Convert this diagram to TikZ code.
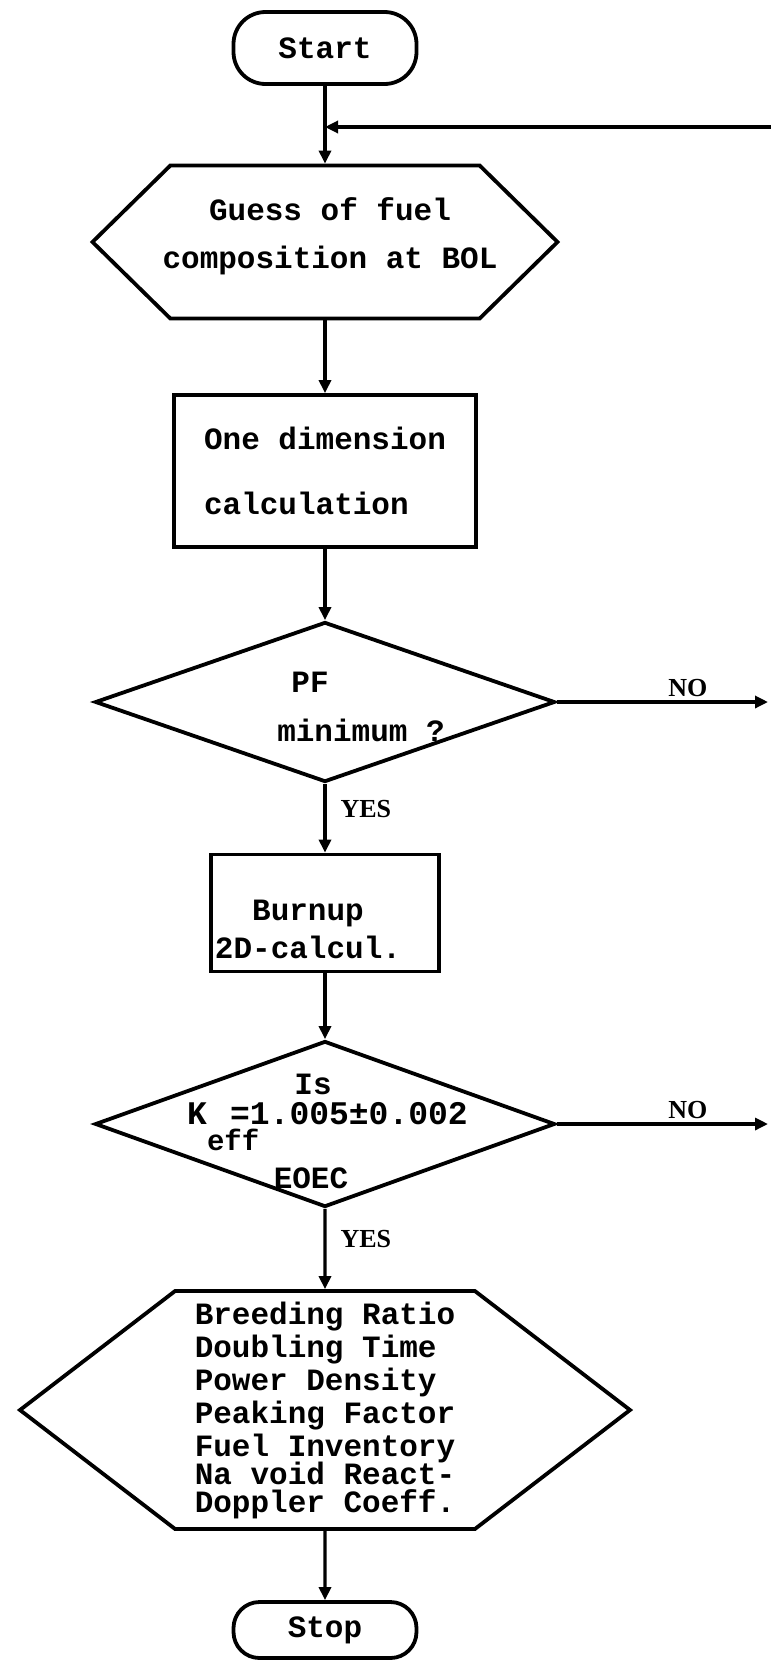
\documentclass[tikz,border=0pt]{standalone}
\usepackage{fontspec}
\usetikzlibrary{arrows.meta,positioning,shapes.geometric,shapes.symbols}
\newfontfamily\prtfont{Liberation Mono}
\newfontfamily\lblfont{Liberation Serif}
\tikzset{
  shp/.style   ={draw=black, line width=3.8pt, fill=white, inner sep=0pt,
                 font=\prtfont\bfseries\fontsize{31}{36}\selectfont},
  term/.style  ={shp, rectangle, rounded corners=32pt,
                 minimum width=183pt, minimum height=72pt},
  proc/.style  ={shp, rectangle, align=left},
  hexa/.style  ={shp, signal, signal to=east and west, signal from=nowhere},
  deci/.style  ={shp, diamond},
  txt/.style   ={font=\prtfont\bfseries\fontsize{31}{36}\selectfont, inner sep=0pt},
  lbl/.style   ={font=\lblfont\bfseries\fontsize{26}{30}\selectfont, inner sep=0pt},
  arr/.style   ={-{Triangle[length=13pt,width=12pt]}, line width=3.2pt},
}
\begin{document}
\begin{tikzpicture}[x=1pt,y=-1pt]
  \useasboundingbox (0,0) rectangle (771,1660);
  % main column
  \node[term] (start) at (325,48) {Start};
  \node[hexa, minimum width=465pt, minimum height=153pt,
        signal pointer angle=89] (guess) at (325,242) {};
  \node[txt, align=center] (guesstxt) at (330,236)
    {Guess of fuel\\[12pt]composition at BOL};
  \node[proc, minimum width=302pt, minimum height=152pt] (onedim) at (325,471)
    {One dimension\\[29pt]calculation};
  \node[deci, minimum width=460pt, minimum height=160pt] (pf) at (325,702) {};
  \node[txt] (pftxt) at (310,682) {PF};
  \node[txt] (pfmin) at (361,730) {minimum ?};
  \node[proc, minimum width=228pt, minimum height=117pt] (burn) at (325,913) {};
  \node[txt, align=center] (burntxt) at (308,929) {Burnup\\[2pt]2D-calcul.};
  \node[deci, minimum width=460pt, minimum height=166pt] (keff) at (325,1124) {};
  \node[txt] (kis) at (313,1084) {Is};
  \node[txt, anchor=base west, font=\prtfont\bfseries\fontsize{33}{36}\selectfont]
    (kval) at (187,1124) {K\rlap{\raisebox{-0.8em}{\fontsize{29}{30}\selectfont eff}}\kern0.7em=1.005±0.002};
  \node[txt] (keoec) at (311,1178) {EOEC};
  \node[hexa, minimum width=610pt, minimum height=238pt,
        signal pointer angle=75, align=left,
        font=\prtfont\bfseries\fontsize{31}{33}\selectfont] (results) at (325,1410)
    {Breeding Ratio\\Doubling Time\\Power Density\\Peaking Factor\\
     Fuel Inventory\\[-5pt]Na void React-\\[-5pt]Doppler Coeff.};
  \node[term, minimum height=56pt, rounded corners=26pt] (stop) at (325,1630) {Stop};
  % loop-back ends
  \coordinate (loop) at (771,127);
  \coordinate (noA) at (768,702);
  \coordinate (noB) at (768,1124);
  % connectors
  \draw[arr] (start) -- (guess);
  \draw[arr] (loop) -- (loop -| start.south);
  \draw[arr] (guess) -- (onedim);
  \draw[arr] (onedim) -- (pf);
  \draw[arr] (pf) -- node[lbl, right=14pt, pos=.37] (yesA) {YES} (burn);
  \draw[arr] (pf.east) -- node[lbl, above=4pt, pos=.62] (noAl) {NO} (noA);
  \draw[arr] (burn) -- (keff);
  \draw[arr] (keff) -- node[lbl, right=14pt, pos=.37] (yesB) {YES} (results);
  \draw[arr] (keff.east) -- node[lbl, above=4pt, pos=.62] (noBl) {NO} (noB);
  \draw[arr] (results) -- (stop);
\end{tikzpicture}
\end{document}
